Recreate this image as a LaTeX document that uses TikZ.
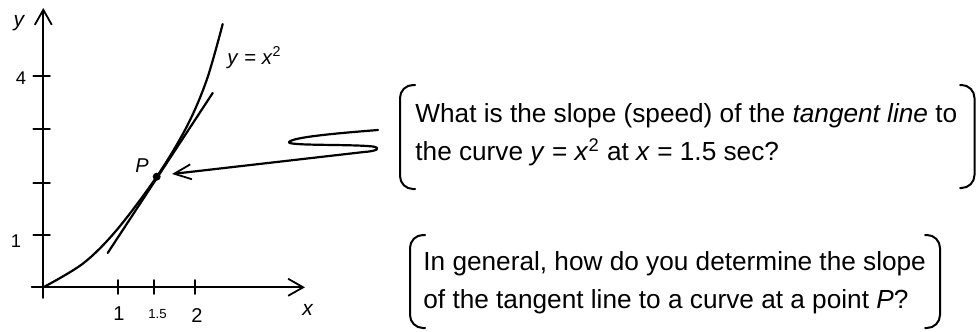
\documentclass[tikz,border=0pt]{standalone}
\usepackage{fontspec}
\setmainfont{Liberation Sans}
\usetikzlibrary{arrows.meta}
\begin{document}
\begin{tikzpicture}[x=0.5pt,y=-0.5pt,line cap=round,line join=round,
  axis/.style={line width=0.9pt},
  crv/.style={line width=1.1pt},
  tick/.style={line width=0.9pt},
  brk/.style={line width=1pt,rounded corners=6.5pt},
  boxtxt/.style={anchor=base west,inner sep=0pt,font=\fontsize{13.1pt}{15pt}\selectfont},
  numlbl/.style={anchor=base,inner sep=0pt,font=\fontsize{10pt}{12pt}\selectfont},
  ynum/.style={anchor=base,inner sep=0pt,font=\fontsize{9.2pt}{11pt}\selectfont},
  smallnum/.style={anchor=base,inner sep=0pt,font=\fontsize{6.6pt}{8pt}\selectfont},
  varlbl/.style={anchor=base,inner sep=0pt,font=\fontsize{10.5pt}{12pt}\selectfont\itshape},
  axarrow/.style={-{Straight Barb[length=7.5pt,width=8.5pt,line width=0.9pt]}},
  parrow/.style={-{Straight Barb[length=8.5pt,width=7.5pt,line width=0.9pt]}}]
\useasboundingbox (0,0) rectangle (976,332);
% axes
\coordinate (xs) at (31.7,287.3);
\coordinate (xe) at (305,287.3);
\coordinate (ys) at (43.3,298);
\coordinate (ye) at (43.3,8);
\draw[axis,axarrow] (xs) -- (xe);
\draw[axis,axarrow] (ys) -- (ye);
% ticks
\foreach \tx in {118.3,154.3,195}{\draw[tick] (\tx,280) -- (\tx,294);}
\foreach \ty in {235.3,182.7,129.3,76}{\draw[tick] (33.3,\ty) -- (50,\ty);}
% tick labels
\node[numlbl] (lx1) at (119,320.5) {1};
\node[smallnum] (lx15) at (157.5,318.3) {1.5};
\node[numlbl] (lx2) at (197,322.5) {2};
\node[ynum] (ly4) at (21,84) {4};
\node[ynum] (ly1) at (16,247) {1};
\node[varlbl] (ylab) at (19,26.5) {y};
\node[varlbl] (xlab) at (307.5,315.5) {x};
% curve and tangent
\draw[crv] plot[smooth,tension=0.55] coordinates {(43.3,287.3) (83.3,263.3) (116.7,230) (156.7,176.7) (186.7,126.7) (206.7,80) (222.7,24)};
\coordinate (tA) at (107.7,253);
\coordinate (tB) at (212.7,93);
\draw[crv] (tA) -- (tB);
\node[circle,fill,inner sep=0pt,minimum size=4pt] (Pdot) at (156.7,176.7) {};
\node[anchor=base west,inner sep=0pt,font=\fontsize{10pt}{12pt}\selectfont\itshape] (Plab) at (135,172) {P};
\node[anchor=base west,inner sep=0pt,font=\fontsize{10.2pt}{12pt}\selectfont] (flab) at (227,64) {\textit{y} = \textit{x}\textsuperscript{2}};
% squiggle arrow
\coordinate (sq) at (378,130);
\coordinate (ptip) at (172,174);
\draw[crv,parrow] (sq) .. controls (340,133) and (293,137) .. (289,142)
  .. controls (286,146) and (350,144) .. (373,146.5)
  .. controls (381,148) and (378,151) .. (364,152) -- (ptip);
% box 1
\draw[brk] (415,85) -- (400,85) -- (400,189) -- (415,189);
\draw[brk] (960,85) -- (974.5,85) -- (974.5,188) -- (960,188);
\node[boxtxt] (q1a) at (415,122) {What is the slope (speed) of the \textit{tangent line} to};
\node[boxtxt] (q1b) at (415,160) {the curve \textit{y} = \textit{x}\textsuperscript{2} at \textit{x} = 1.5 sec?};
% box 2
\draw[brk] (425,235) -- (410,235) -- (410,328) -- (425,328);
\draw[brk] (925,235) -- (940,235) -- (940,328) -- (925,328);
\node[boxtxt] (q2a) at (423,270) {In general, how do you determine the slope};
\node[boxtxt] (q2b) at (423,308) {of the tangent line to a curve at a point \textit{P}?};
\end{tikzpicture}
\end{document}
